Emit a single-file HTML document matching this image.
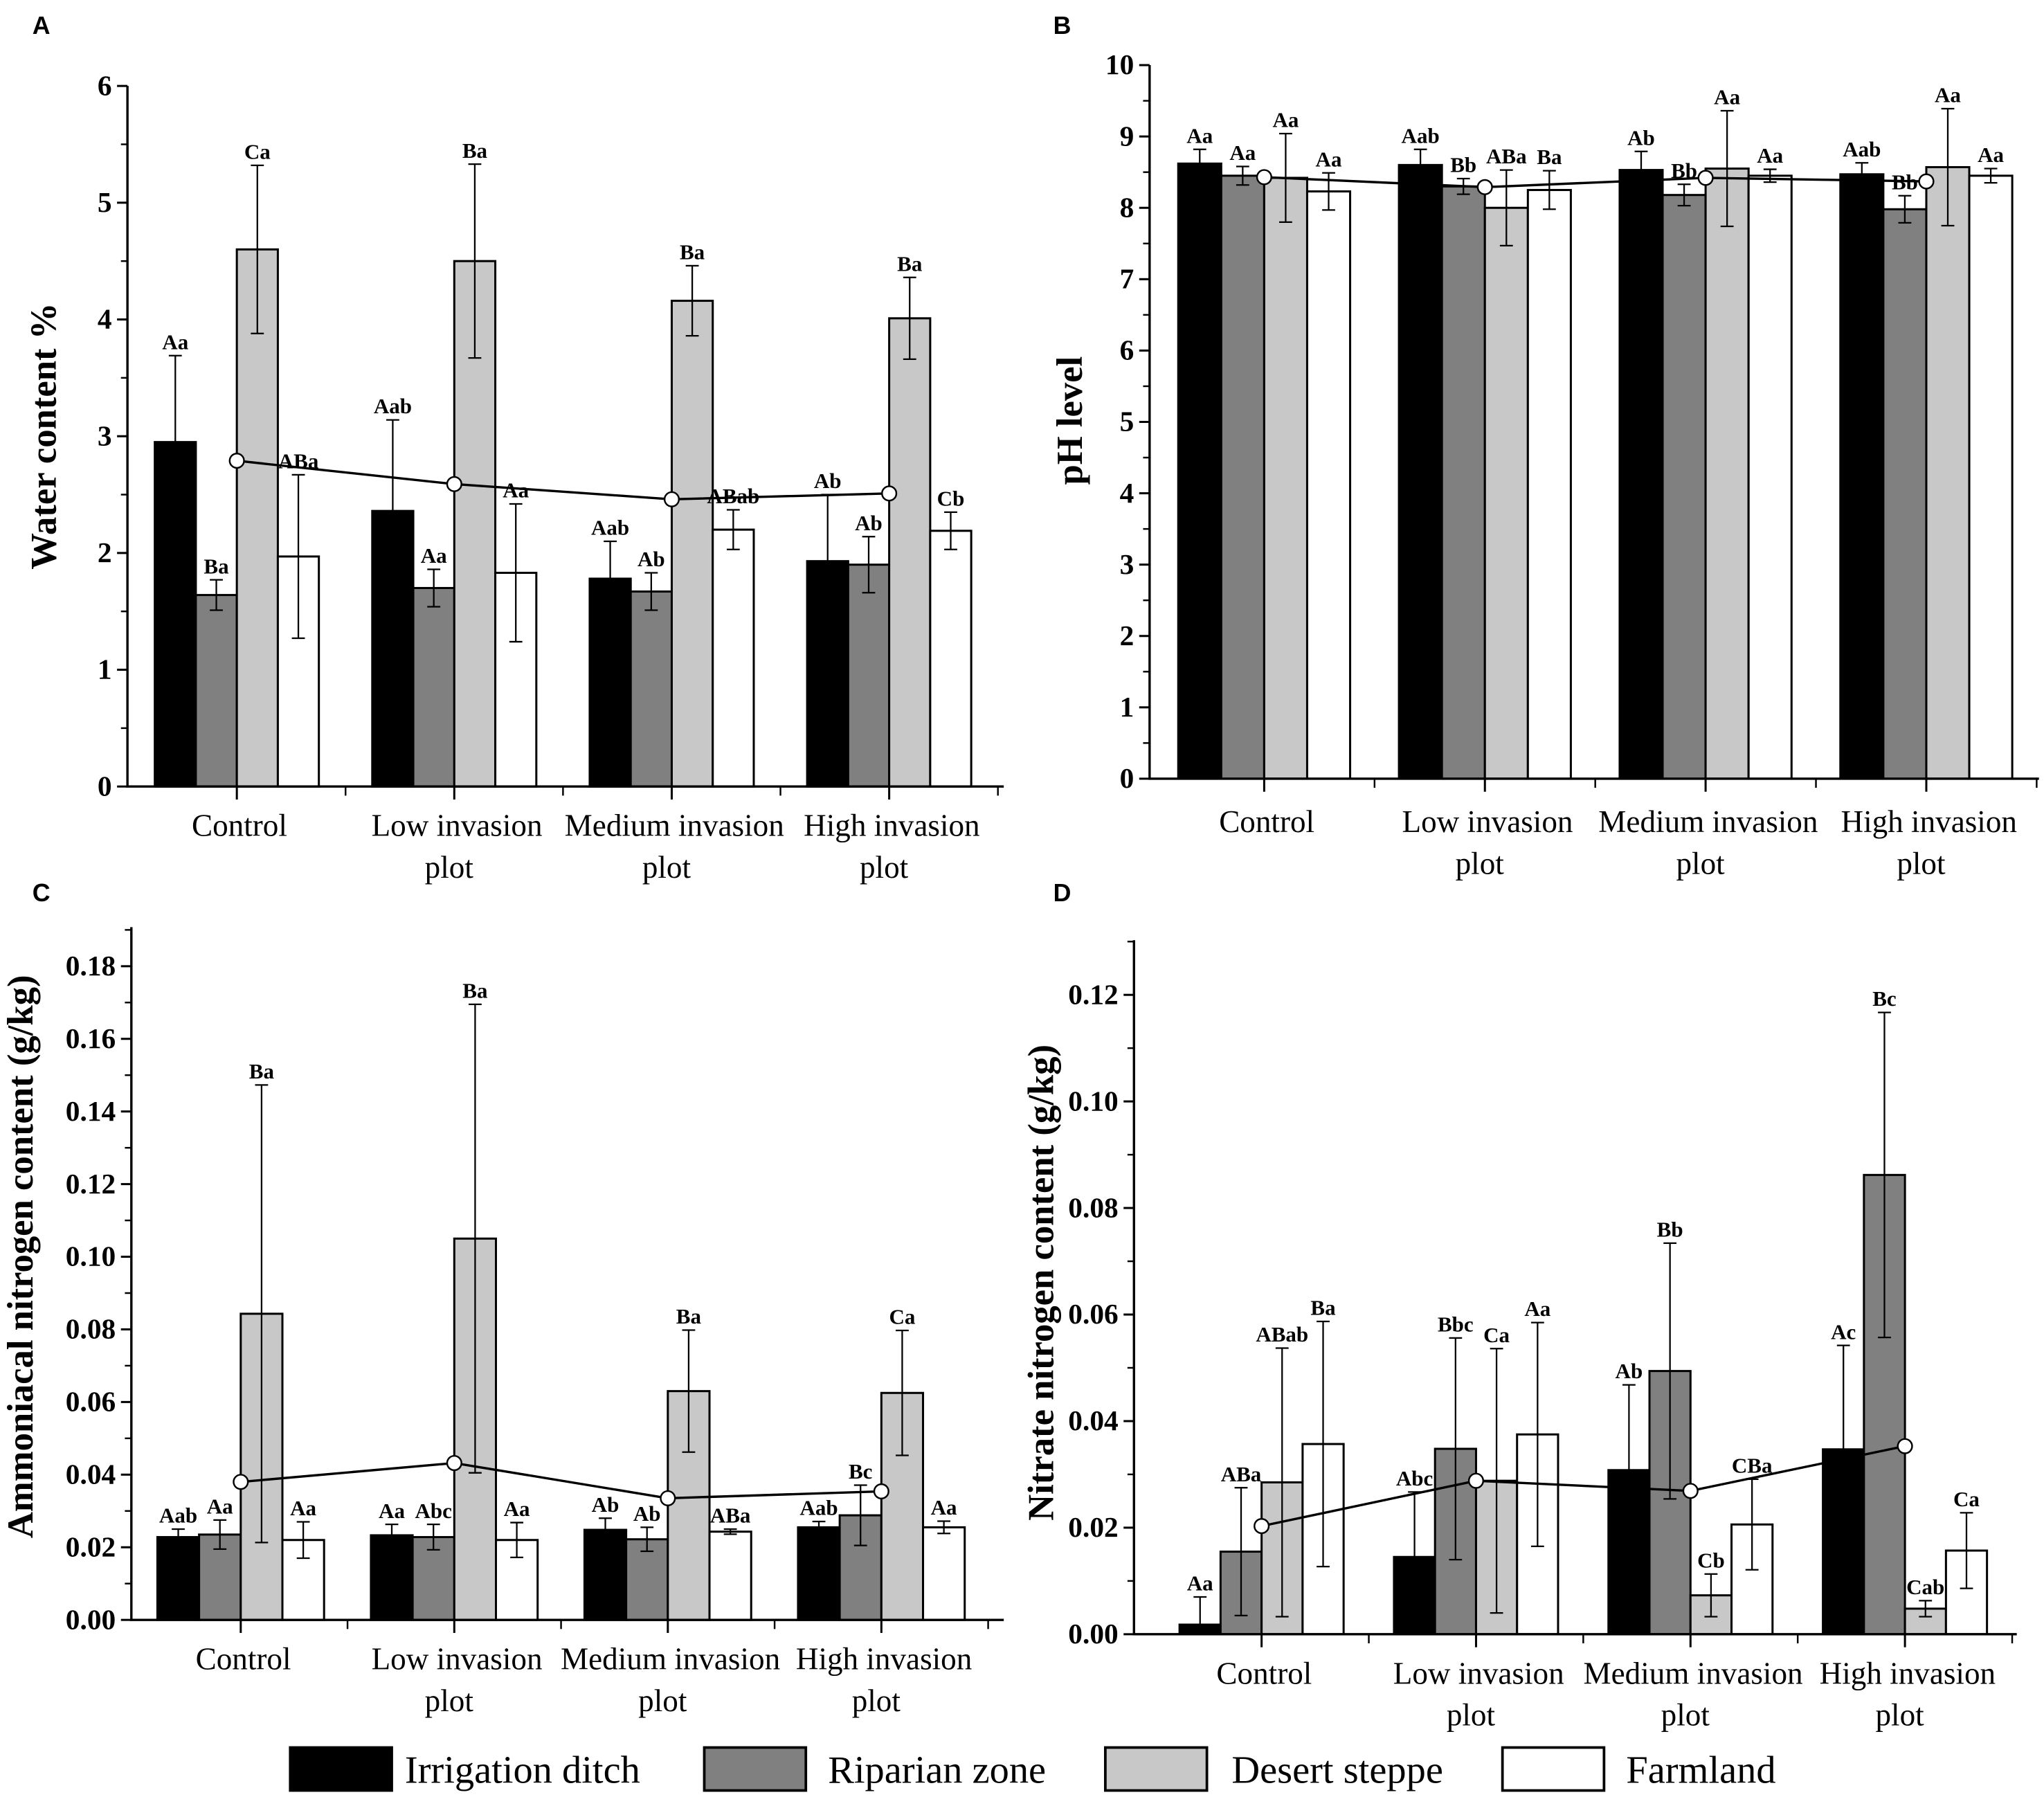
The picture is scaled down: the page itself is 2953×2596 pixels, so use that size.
<!DOCTYPE html>
<html><head><meta charset="utf-8"><style>
html,body{margin:0;padding:0;background:#fff;}
svg{display:block;}
.t{font-family:"Liberation Serif",serif;}
</style></head><body>
<svg id="fig" width="2953" height="2596" viewBox="0 0 1568 1380" xmlns="http://www.w3.org/2000/svg">
<g id="legend">
 <g><rect x="222" y="1342" width="78" height="33" fill="#000" stroke="#000" stroke-width="2"/><text class="t" x="310" y="1369" font-size="30">Irrigation ditch</text></g>
 <g><rect x="540" y="1342" width="78" height="33" fill="#808080" stroke="#000" stroke-width="2"/><text class="t" x="635" y="1369" font-size="30">Riparian zone</text></g>
 <g><rect x="848" y="1342" width="78" height="33" fill="#c8c8c8" stroke="#000" stroke-width="2"/><text class="t" x="945" y="1369" font-size="30">Desert steppe</text></g>
 <g><rect x="1153" y="1342" width="78" height="33" fill="#fff" stroke="#000" stroke-width="2"/><text class="t" x="1248" y="1369" font-size="30">Farmland</text></g>
</g>
</svg>
<script>
const categories = ["Control","Low invasion|plot","Medium invasion|plot","High invasion|plot"];
const colors = ["#000","#808080","#c8c8c8","#fff"];

const aValues = [[2.95,1.64,4.60,1.97],[2.36,1.70,4.50,1.83],[1.78,1.67,4.16,2.20],[1.93,1.90,4.01,2.19]];
const aErrors = [[0.74,0.13,0.72,0.70],[0.78,0.16,0.83,0.59],[0.32,0.16,0.30,0.17],[0.57,0.24,0.35,0.16]];
const aLabels = [["Aa","Ba","Ca","ABa"],["Aab","Aa","Ba","Aa"],["Aab","Ab","Ba","ABab"],["Ab","Ab","Ba","Cb"]];
const aMean = [2.79,2.59,2.46,2.51];
const aTicks = ["0","1","2","3","4","5","6"];

const bValues = [[8.62,8.45,8.42,8.23],[8.60,8.30,8.00,8.25],[8.53,8.18,8.55,8.45],[8.47,7.98,8.57,8.45]];
const bErrors = [[0.20,0.13,0.62,0.26],[0.22,0.11,0.53,0.27],[0.26,0.15,0.81,0.09],[0.16,0.19,0.82,0.10]];
const bLabels = [["Aa","Aa","Aa","Aa"],["Aab","Bb","ABa","Ba"],["Ab","Bb","Aa","Aa"],["Aab","Bb","Aa","Aa"]];
const bMean = [8.43,8.29,8.42,8.37];
const bTicks = ["0","1","2","3","4","5","6","7","8","9","10"];

const cValues = [[0.0228,0.0235,0.0843,0.0220],[0.0233,0.0228,0.1050,0.0220],[0.0248,0.0222,0.0630,0.0243],[0.0255,0.0288,0.0625,0.0255]];
const cErrors = [[0.0022,0.0040,0.0630,0.0050],[0.0030,0.0035,0.0645,0.0048],[0.0032,0.0033,0.0168,0.0007],[0.0016,0.0083,0.0172,0.0017]];
const cLabels = [["Aab","Aa","Ba","Aa"],["Aa","Abc","Ba","Aa"],["Ab","Ab","Ba","ABa"],["Aab","Bc","Ca","Aa"]];
const cMean = [0.0380,0.0432,0.0335,0.0354];
const cTicks = ["0.00","0.02","0.04","0.06","0.08","0.10","0.12","0.14","0.16","0.18"];

const dValues = [[0.0018,0.0155,0.0285,0.0357],[0.0145,0.0348,0.0288,0.0375],[0.0308,0.0494,0.0073,0.0206],[0.0347,0.0862,0.0048,0.0157]];
const dErrors = [[0.0052,0.0120,0.0252,0.0230],[0.0122,0.0208,0.0248,0.0210],[0.0160,0.0240,0.0040,0.0085],[0.0195,0.0305,0.0015,0.0071]];
const dLabels = [["Aa","ABa","ABab","Ba"],["Abc","Bbc","Ca","Aa"],["Ab","Bb","Cb","CBa"],["Ac","Bc","Cab","Ca"]];
const dMean = [0.0203,0.0288,0.0269,0.0353];
const dTicks = ["0.00","0.02","0.04","0.06","0.08","0.10","0.12"];

const NS="http://www.w3.org/2000/svg";
const svg=document.getElementById('fig');
function mk(tag,attrs,parent){const e=document.createElementNS(NS,tag);for(const k in attrs)e.setAttribute(k,attrs[k]);(parent||svg).appendChild(e);return e;}

function panel(p){
  const g=mk('g',{});
  
  
  const y=v=>p.y0-(v-p.vmin)/(p.vmax-p.vmin)*(p.y0-p.yTop);
  const cx=i=>p.c0+p.step*i;
  const L=mk('text',{x:p.lx,y:p.ly,'font-family':'Liberation Sans, sans-serif','font-weight':'bold','font-size':19},g);
  L.textContent=p.id.toUpperCase();
  
  
  for(let i=0;i<4;i++){
    for(let s=0;s<4;s++){
      const v=p.vals[i][s], e=p.errs[i][s];
      const x=cx(i)-2*p.bw+s*p.bw;
      const r=mk('rect',{x:x,y:y(v),width:p.bw,height:p.y0-y(v),fill:colors[s],stroke:'#000','stroke-width':1.6},g);
      
      
      const m=x+p.bw/2;
      const lo=Math.max(p.vmin,v-e);
      const eb=mk('path',{d:`M${m},${y(lo)}V${y(v+e)}M${m-5},${y(v+e)}H${m+5}M${m-5},${y(lo)}H${m+5}`,stroke:'#000','stroke-width':1.2,fill:'none'},g);
      
      
      const t=mk('text',{x:m,y:y(v+e)-5,'text-anchor':'middle','font-size':16.5,'font-weight':'bold',class:'t'},g);
      t.textContent=p.labs[i][s];
      
      
    }
  }
  let d='';for(let i=0;i<4;i++)d+=(i?'L':'M')+cx(i)+','+y(p.mean[i]);
  const ln=mk('path',{d:d,stroke:'#000','stroke-width':1.8,fill:'none'},g);
  
  
  for(let i=0;i<4;i++){
    const c=mk('circle',{cx:cx(i),cy:y(p.mean[i]),r:5.5,fill:'#fff',stroke:'#000','stroke-width':1.3},g);
    
    
  }
  const ax=mk('path',{d:`M${p.ax},${p.axTop}V${p.y0}H${p.xEnd}`,stroke:'#000','stroke-width':1.8,fill:'none'},g);
  
  
  p.ticks.forEach((lab,k)=>{
    const v=p.vmin+k*p.tstep, yy=y(v);
    mk('path',{d:`M${p.ax-8},${yy}H${p.ax}`,stroke:'#000','stroke-width':1.6},g);
    if(k<p.ticks.length-1||p.minorTop){const ym=y(v+p.tstep/2); if(ym>=p.axTop-1) mk('path',{d:`M${p.ax-5},${ym}H${p.ax}`,stroke:'#000','stroke-width':1.3},g);}
    const t=mk('text',{x:p.ax-12,y:yy+7,'text-anchor':'end','font-size':22,'font-weight':'bold',class:'t'},g);
    t.textContent=lab;
    
    
  });
  for(let i=0;i<4;i++){
    mk('path',{d:`M${cx(i)},${p.y0}V${p.y0+10}`,stroke:'#000','stroke-width':1.6},g);
    mk('path',{d:`M${cx(i)+p.step/2},${p.y0}V${p.y0+7}`,stroke:'#000','stroke-width':1.3},g);
    const parts=categories[i].split('|');
    parts.forEach((s,j)=>{
      const t=mk('text',{x:cx(i)+(j?-4:2),y:p.y0+38+p.ly2+j*32,'text-anchor':'middle','font-size':24,class:'t'},g);
      t.textContent=s;
      
      
    });
  }
  const yt=mk('text',{x:0,y:0,'text-anchor':'middle','font-size':28,'font-weight':'bold',class:'t',transform:`translate(${p.tx},${p.ty}) rotate(-90)`},g);
  yt.textContent=p.title;
  
  
}
panel({id:'a',vals:aValues,errs:aErrors,labs:aLabels,mean:aMean,ticks:aTicks,vmin:0,vmax:6,tstep:1,y0:604,yTop:66,axTop:66,ax:97,xEnd:770,c0:181,step:167,bw:31.5,lx:24,ly:26,tx:42,ty:335,title:'Water content %',ly2:0});
panel({id:'b',vals:bValues,errs:bErrors,labs:bLabels,mean:bMean,ticks:bTicks,vmin:0,vmax:10,tstep:1,y0:598,yTop:50,axTop:50,ax:882,xEnd:1565,c0:970,step:169.5,bw:33,lx:808,ly:26,tx:830,ty:323,title:'pH level',ly2:3});
panel({id:'c',vals:cValues,errs:cErrors,labs:cLabels,mean:cMean,ticks:cTicks,vmin:0,vmax:0.18,tstep:0.02,y0:1244,yTop:742,axTop:712,ax:100,xEnd:770,c0:184,step:164,bw:32,minorTop:true,lx:24,ly:692,tx:24,ty:965,title:'Ammoniacal nitrogen content (g/kg)',ly2:0});
panel({id:'d',vals:dValues,errs:dErrors,labs:dLabels,mean:dMean,ticks:dTicks,vmin:0,vmax:0.12,tstep:0.02,y0:1255,yTop:764,axTop:722,ax:870,xEnd:1548,c0:968,step:164.7,bw:31.5,minorTop:true,lx:808,ly:692,tx:808,ty:985,title:'Nitrate nitrogen content (g/kg)',ly2:0});
</script>
</body></html>
